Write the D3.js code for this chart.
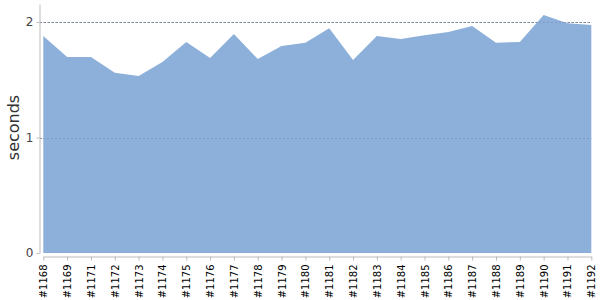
<!DOCTYPE html>
<html>
<head>
<meta charset="utf-8">
<script src="https://cdn.jsdelivr.net/npm/d3@7"></script>
<style>
body { margin: 0; background: #fff; }
svg { display: block; font-family: "DejaVu Sans", sans-serif; }
</style>
</head>
<body>
<svg id="chart" width="600" height="300"></svg>
<script>
const builds = ["#1168","#1169","#1171","#1172","#1173","#1174","#1175","#1176","#1177","#1178","#1179","#1180","#1181","#1182","#1183","#1184","#1185","#1186","#1187","#1188","#1189","#1190","#1191","#1192"];
const seconds = [1.879,1.697,1.697,1.561,1.532,1.654,1.827,1.688,1.896,1.680,1.792,1.821,1.945,1.671,1.879,1.853,1.885,1.913,1.965,1.821,1.827,2.061,1.989,1.974];
const yTicks = [0, 1, 2];
const yLabel = "seconds";

const svg = d3.select("#chart");
const x = d3.scalePoint().domain(builds).range([43.3, 591.3]);
const y = d3.scaleLinear().domain([0, 2.156]).range([253, 4]);

// gridlines
svg.append("g").selectAll("line").data(yTicks.filter(d => d > 0)).join("line")
  .attr("x1", 40).attr("x2", 591.5)
  .attr("y1", d => Math.round(y(d)) + 0.5).attr("y2", d => Math.round(y(d)) + 0.5)
  .attr("stroke", "#888").attr("stroke-width", 1).attr("stroke-dasharray", "2,2");

// area
const area = d3.area().x((d, i) => x(builds[i])).y0(y(0)).y1(d => y(d));
svg.append("path").datum(seconds).attr("d", area).attr("fill", "#8db0da");

// gridline over area
svg.append("g").selectAll("line").data(yTicks.filter(d => d > 0)).join("line")
  .attr("x1", 43).attr("x2", 591.5)
  .attr("y1", d => Math.round(y(d)) + 0.5).attr("y2", d => Math.round(y(d)) + 0.5)
  .attr("stroke", "#7a8fb0").attr("stroke-opacity", 0.6).attr("stroke-width", 1).attr("stroke-dasharray", "2,2");

// y axis
const yAxis = svg.append("g").attr("transform", "translate(39.5,0)")
  .call(d3.axisLeft(y).tickValues(yTicks).tickFormat(d3.format("d")).tickSize(3).tickSizeOuter(0));
yAxis.select(".domain").attr("stroke", "#bbb");
yAxis.selectAll(".tick line").attr("stroke", "#bbb");
yAxis.selectAll(".tick text").attr("fill", "#444").attr("font-size", 12).attr("font-family", "DejaVu Sans").attr("x", -6);

// x axis
const xAxis = svg.append("g").attr("transform", "translate(0,256.5)")
  .call(d3.axisBottom(x).tickSize(4).tickSizeOuter(0));
xAxis.select(".domain").attr("stroke", "#bbb");
xAxis.selectAll(".tick line").attr("stroke", "#bbb");
xAxis.selectAll(".tick text")
  .attr("fill", "#000").attr("font-size", 10).attr("font-family", "DejaVu Sans")
  .attr("transform", "rotate(-90)")
  .attr("text-anchor", "end").attr("x", -8).attr("y", 0).attr("dy", "0.35em");

// y label
svg.append("text")
  .attr("transform", "translate(18.5,127.5) rotate(-90)")
  .attr("text-anchor", "middle")
  .attr("font-size", 16).attr("fill", "#333")
  .text(yLabel);
</script>
</body>
</html>
